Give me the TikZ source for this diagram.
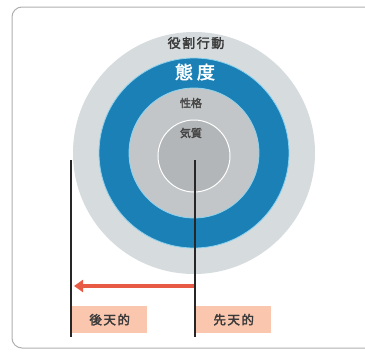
\documentclass[tikz,border=0pt]{standalone}
\usepackage{fontspec}
\newfontfamily\cjk[FakeBold=2.5]{Noto Sans CJK JP}
\newfontfamily\cjkw[FakeBold=2.5,LetterSpace=12]{Noto Sans CJK JP}
\usetikzlibrary{arrows.meta}
\definecolor{outergray}{HTML}{D6DBDE}
\definecolor{ringblue}{HTML}{1A80B6}
\definecolor{midgray}{HTML}{C3C6C8}
\definecolor{innergray}{HTML}{B3B6B8}
\definecolor{edgeblue}{HTML}{8FD3EE}
\definecolor{salmon}{HTML}{FAC7AE}
\definecolor{arrowred}{HTML}{E95A45}
\definecolor{txtdark}{HTML}{3A3A3A}
\definecolor{framegray}{HTML}{B0B0B0}
\tikzset{
  lbl/.style={font=\cjk\fontsize{12.5}{14}\selectfont, text=txtdark, inner sep=0pt},
  tagbox/.style={fill=salmon, minimum width=75pt, minimum height=27pt, inner sep=0pt, anchor=north west, font=\cjkw\fontsize{12.5}{15}\selectfont, text=txtdark},
  vline/.style={draw=black!85, line width=1.2pt}
}
\begin{document}
\begin{tikzpicture}[x=1pt,y=-1pt]
\useasboundingbox (0,0) rectangle (365,359);
\fill[white] (0,0) rectangle (365,359);
\draw[framegray, line width=1pt, rounded corners=10pt] (380,7) -- (12,7) -- (12,348) -- (380,348);
% circles
\fill[outergray] (194,153) circle (121);
\fill[ringblue] (194,153) circle (95);
\draw[edgeblue, line width=0.8pt] (194,153) circle (95);
\fill[midgray] (194,153) circle (65);
\draw[edgeblue, line width=0.8pt] (194,153) circle (65);
\fill[innergray] (194,156) circle (36);
\draw[white, line width=1pt] (194,156) circle (36);
% labels
\node[lbl, font=\cjkw\fontsize{13}{15}\selectfont] (role) at (196,43) {役割行動};
\node[lbl, text=white, font=\cjk\fontsize{18}{20}\selectfont] (attitude) at (195,72) {態\hspace{4pt}度};
\node[lbl, text=black!72, font=\cjk\fontsize{11}{13}\selectfont] (person) at (191,103) {性格};
\node[lbl, text=black!72, font=\cjk\fontsize{11}{13}\selectfont] (temper) at (191,133) {気質};
% lines
\coordinate (ltop) at (71,160);
\coordinate (lbot) at (71,337);
\coordinate (rtop) at (195,160);
\coordinate (rbot) at (195,337);
\node[tagbox] (acq) at (72,306) {後天的};
\node[tagbox] (inn) at (196,306) {先天的};
\draw[vline] (ltop) -- (lbot);
\draw[vline] (rtop) -- (rbot);
\coordinate (astart) at (194,286);
\coordinate (aend) at (74,286);
\draw[arrowred, line width=4pt, -{Triangle[length=9pt,width=12pt]}] (astart) -- (aend);
\end{tikzpicture}
\end{document}
